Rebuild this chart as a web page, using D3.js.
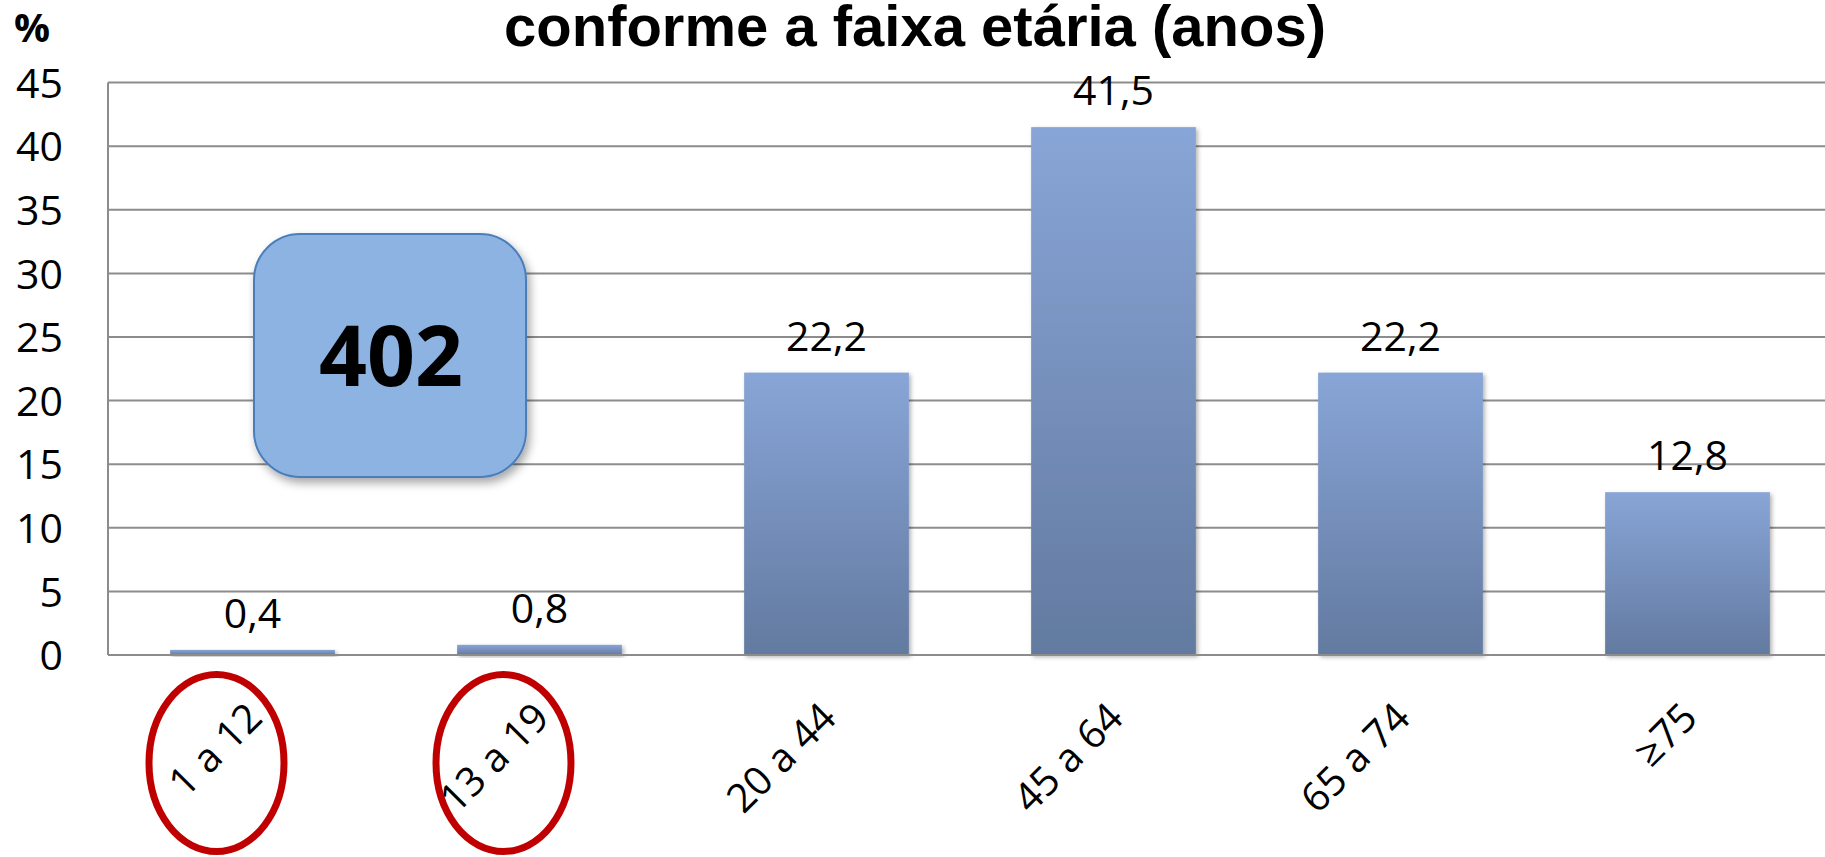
<!DOCTYPE html>
<html><head><meta charset="utf-8">
<script src="https://cdn.jsdelivr.net/npm/d3@7"></script>
<style>html,body{margin:0;padding:0;background:#fff;overflow:hidden}</style>
</head><body>
<svg id="c" width="1825" height="857"></svg>
<script>
const categories = ["1 a 12", "13 a 19", "20 a 44", "45 a 64", "65 a 74", "\u226575"];
const values = [0.4, 0.8, 22.2, 41.5, 22.2, 12.8];
const valueLabels = ["0,4", "0,8", "22,2", "41,5", "22,2", "12,8"];
const yTicks = [0, 5, 10, 15, 20, 25, 30, 35, 40, 45];
const circled = ["1 a 12", "13 a 19"];
const titleText = "conforme a faixa etária (anos)";
const unitText = "%";
const boxText = "402";

const svg = d3.select("#c");
const defs = svg.append("defs");
const g1 = defs.append("linearGradient").attr("id","barGrad").attr("x1",0).attr("y1",0).attr("x2",0).attr("y2",1);
g1.append("stop").attr("offset","0%").attr("stop-color","#88A5D7");
g1.append("stop").attr("offset","100%").attr("stop-color","#637AA0");
const f = defs.append("filter").attr("id","shadow").attr("x","-10%").attr("y","-10%").attr("width","130%").attr("height","130%");
f.append("feDropShadow").attr("dx",2).attr("dy",2).attr("stdDeviation",2).attr("flood-color","#000").attr("flood-opacity",0.3);
const f2 = defs.append("filter").attr("id","boxShadow").attr("x","-10%").attr("y","-10%").attr("width","130%").attr("height","130%");
f2.append("feDropShadow").attr("dx",3).attr("dy",5).attr("stdDeviation",5).attr("flood-color","#000").attr("flood-opacity",0.35);

const pLeft = 108, pRight = 1825, pTop = 82.6, pBottom = 655;
const x = d3.scaleBand().domain(categories).range([pLeft + 1, pRight + 6]).paddingInner(0.426).paddingOuter(0.213);
const y = d3.scaleLinear().domain([0, 45]).range([pBottom, pTop]);
const numFont = "Open Sans";

// gridlines
svg.append("g").selectAll("line").data(yTicks).join("line")
  .attr("x1", pLeft).attr("x2", pRight)
  .attr("y1", d => y(d)).attr("y2", d => y(d))
  .attr("stroke", "#8c8c8c").attr("stroke-width", 2);
// left axis line
svg.append("line").attr("x1", pLeft).attr("x2", pLeft).attr("y1", y(45)).attr("y2", y(0))
  .attr("stroke", "#8c8c8c").attr("stroke-width", 2);

// y tick labels
const yAxis = d3.axisLeft(y).tickValues(yTicks).tickSize(0).tickPadding(0);
const ya = svg.append("g").attr("transform", `translate(63,0)`).call(yAxis);
ya.select(".domain").remove();
ya.selectAll("text").attr("font-family",numFont).attr("font-size",41).attr("fill","#000").attr("dy","0.36em");

// bars
svg.append("g").selectAll("rect").data(values).join("rect")
  .attr("x", (d,i) => x(categories[i]))
  .attr("width", x.bandwidth())
  .attr("y", d => y(d))
  .attr("height", d => y(0) - y(d))
  .attr("fill", "url(#barGrad)")
  .attr("filter", "url(#shadow)");

// bottom axis line
svg.append("line").attr("x1", pLeft).attr("x2", pRight).attr("y1", y(0)).attr("y2", y(0))
  .attr("stroke", "#8c8c8c").attr("stroke-width", 2);

// value labels
svg.append("g").selectAll("text").data(values).join("text")
  .attr("x", (d,i) => x(categories[i]) + x.bandwidth()/2)
  .attr("y", d => y(d) - 22)
  .attr("text-anchor","middle")
  .attr("font-family",numFont).attr("font-size",41).attr("fill","#000")
  .text((d,i) => valueLabels[i]);

// x labels rotated
svg.append("g").selectAll("text").data(categories).join("text")
  .attr("transform", d => `translate(${x(d) + x.bandwidth()/2 + 12},720) rotate(-45)`)
  .attr("text-anchor","end")
  .attr("font-family",numFont).attr("font-size",40).attr("fill","#000")
  .text(d => d);

// red ellipses
svg.append("g").selectAll("ellipse").data(circled).join("ellipse")
  .attr("cx", d => x(d) + x.bandwidth()/2 - 36)
  .attr("cy", 763)
  .attr("rx", 67.5).attr("ry", 88.5)
  .attr("fill","none").attr("stroke","#C00000").attr("stroke-width",7);

// rounded box
const bx = 254, by = 234, bw = 272, bh = 243;
svg.append("rect").attr("x",bx).attr("y",by).attr("width",bw).attr("height",bh)
  .attr("rx",46).attr("ry",46)
  .attr("fill","#8DB3E2").attr("stroke","#4A7EBB").attr("stroke-width",2)
  .attr("filter","url(#boxShadow)");
svg.append("text").attr("x", bx + bw/2 + 1).attr("y", by + bh/2 + 30)
  .attr("text-anchor","middle").attr("font-family","Noto Sans").attr("font-weight","bold")
  .attr("font-size",84).attr("fill","#000").text(boxText);

// title
svg.append("text").attr("x", 915).attr("y", 46).attr("text-anchor","middle")
  .attr("font-family","Liberation Sans").attr("font-weight","bold").attr("font-size",58)
  .attr("fill","#000").text(titleText);
svg.append("text").attr("x", 14).attr("y", 42)
  .attr("font-family","Open Sans").attr("font-weight","bold").attr("font-size",40)
  .attr("fill","#000").text(unitText);
</script>
</body></html>
